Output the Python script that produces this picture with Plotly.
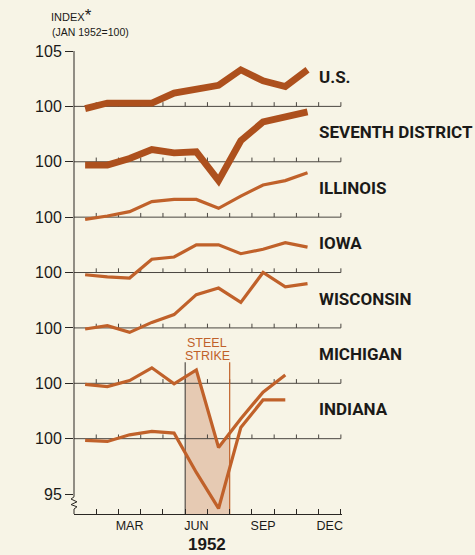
import numpy as np
import plotly.graph_objects as go

# ---------------- data ----------------
months = [1, 2, 3, 4, 5, 6, 7, 8, 9, 10, 11]          # Jan .. Nov 1952 (mid-month)
month_labels = ["MAR", "JUN", "SEP", "DEC"]
month_label_pos = [3, 6, 9, 12]
month_bounds = [1.5, 2.5, 3.5, 4.5, 5.5, 6.5, 7.5, 8.5, 9.5, 10.5, 11.5, 12.5]

us = [99.8, 100.3, 100.3, 100.3, 101.2, 101.6, 101.9, 103.3, 102.3, 101.8, 103.3]
seventh_district = [99.7, 99.7, 100.3, 101.1, 100.8, 100.9, 98.3, 101.9, 103.6, 104.0, 104.5]
illinois = [99.8, 100.1, 100.5, 101.4, 101.6, 101.6, 100.8, 101.9, 102.9, 103.3, 104.0]
iowa = [99.8, 99.6, 99.5, 101.2, 101.4, 102.5, 102.5, 101.7, 102.1, 102.7, 102.3]
wisconsin = [99.9, 100.2, 99.6, 100.5, 101.2, 103.0, 103.6, 102.3, 105.0, 103.7, 104.0]
michigan = [99.9, 99.7, 100.25, 101.4, 99.95, 101.2, 94.2, 96.8, 99.2, 100.75, None]
indiana = [99.85, 99.75, 100.35, 100.65, 100.5, 96.95, 93.7, 101.0, 103.5, 103.5, None]

series_names = ["U.S.", "SEVENTH DISTRICT", "ILLINOIS", "IOWA", "WISCONSIN", "MICHIGAN", "INDIANA"]
series_values = [us, seventh_district, illinois, iowa, wisconsin, michigan, indiana]

y_tick_labels = ["95", "100", "100", "100", "100", "100", "100", "100", "105"]
strike_start, strike_end = 5.5, 7.5   # June 1 .. Aug 1

# ---------------- style ----------------
BG = "#f7f4e6"
INK = "#2a2723"
TXT = "#1b1a18"
THICK = "#ad501d"
THIN = "#c0612a"
BASE = 100
offsets = [35, 30, 25, 20, 15, 10, 5]
widths = [6.8, 6.8, 3.2, 3.2, 3.2, 3.2, 3.2]
colors = [THICK, THICK, THIN, THIN, THIN, THIN, THIN]
YMIN, YMAX = -1.8, 40
XMIN, XMAX = 0.5, 12.55

fig = go.Figure()

# steel strike shading (below Michigan line)
mich_off = offsets[series_names.index("MICHIGAN")]
mx = [m for m, v in zip(months, michigan) if v is not None]
mv = [v for v in michigan if v is not None]
inside = [m for m in mx if strike_start < m < strike_end]
top_x = [strike_start] + inside + [strike_end]
top_y = [np.interp(x, mx, mv) - BASE + mich_off for x in top_x]
poly_x = top_x + [strike_end, strike_start, strike_start]
poly_y = top_y + [YMIN, YMIN, top_y[0]]
fig.add_trace(go.Scatter(
    x=poly_x, y=poly_y, mode="lines", fill="toself",
    fillcolor="#e6cab3", line=dict(width=0), hoverinfo="skip"))

# baselines with month ticks
bx, by = [], []
for off in offsets:
    bx += [0.5, 12.5, None]
    by += [off, off, None]
    for b in month_bounds:
        bx += [b, b, None]
        by += [off, off + 0.38, None]
fig.add_trace(go.Scatter(x=bx, y=by, mode="lines", line=dict(color="#4a4640", width=1),
                         hoverinfo="skip"))

# strike boundary lines
fig.add_trace(go.Scatter(x=[strike_start, strike_start], y=[YMIN, 11.9], mode="lines",
                         line=dict(color="#55504a", width=1.2), hoverinfo="skip"))
fig.add_trace(go.Scatter(x=[strike_end, strike_end], y=[YMIN, 11.9], mode="lines",
                         line=dict(color=THIN, width=1.2), hoverinfo="skip"))

# series
for name, vals, off, w, c in zip(series_names, series_values, offsets, widths, colors):
    xs = [m for m, v in zip(months, vals) if v is not None]
    ys = [v - BASE + off for v in vals if v is not None]
    fig.add_trace(go.Scatter(x=xs, y=ys, mode="lines", name=name,
                             line=dict(color=c, width=w), hoverinfo="skip"))
    fig.add_annotation(x=11.43, y=off + 2.65, xref="x", yref="y", text=name,
                       showarrow=False, xanchor="left", yanchor="middle",
                       font=dict(family="Roboto", size=17, color=TXT, weight="bold"))

# y axis line with break
fig.add_shape(type="line", xref="paper", yref="y", x0=0, x1=0, y0=YMAX, y1=-0.25,
              line=dict(color=INK, width=1))
fig.add_shape(type="line", xref="paper", yref="y", x0=0, x1=0, y0=-1.35, y1=YMIN,
              line=dict(color=INK, width=1))
fig.add_shape(type="path", xref="paper", yref="y",
              path="M 0,-0.25 L -0.011,-0.45 L 0.011,-0.7 L -0.011,-0.95 L 0.011,-1.15 L 0,-1.35",
              line=dict(color=INK, width=1))

# texts
fig.add_annotation(x=6.5, y=13.6, xref="x", yref="y", text="STEEL", showarrow=False,
                   font=dict(family="Liberation Sans", size=12.5, color=THIN))
fig.add_annotation(x=6.5, y=12.5, xref="x", yref="y", text="STRIKE", showarrow=False,
                   font=dict(family="Liberation Sans", size=12.5, color=THIN))
fig.add_annotation(x=6.5, y=0, xref="x", yref="paper", yshift=-41, text="1952",
                   showarrow=False, yanchor="bottom", borderpad=0,
                   font=dict(family="Liberation Sans", size=17, color=TXT, weight="bold"))
fig.add_annotation(x=-0.093, y=1.076, xref="paper", yref="paper",
                   text="INDEX<span style='font-size:17px'>*</span>", showarrow=False,
                   yanchor="middle", font=dict(family="Liberation Sans", size=11, color=TXT))
fig.add_annotation(x=-0.088, y=1.04, xref="paper", yref="paper",
                   text="(JAN 1952=100)", showarrow=False, yanchor="middle",
                   font=dict(family="Liberation Sans", size=10.5, color=TXT))

fig.update_layout(
    width=475, height=555,
    margin=dict(l=74, r=133, t=51, b=41),
    paper_bgcolor=BG, plot_bgcolor=BG, showlegend=False,
    xaxis=dict(range=[XMIN, XMAX], tickvals=month_label_pos, ticktext=month_labels,
               ticks="", showline=True, linecolor=INK, linewidth=1, showgrid=False,
               zeroline=False, ticklabelstandoff=0,
               tickfont=dict(family="Liberation Sans", size=12.5, color=TXT),
               minor=dict(tickvals=month_bounds, ticks="inside", ticklen=5,
                          tickcolor=INK, tickwidth=1)),
    yaxis=dict(range=[YMIN, YMAX], tickvals=[0, 5, 10, 15, 20, 25, 30, 35, 40],
               ticktext=y_tick_labels, ticks="outside", ticklen=8, tickcolor=INK,
               tickwidth=1, showline=False, showgrid=False, zeroline=False,
               tickfont=dict(family="Liberation Sans", size=16, color=TXT)),
)

fig.write_html("out.html", config={"displayModeBar": False},
               post_script="document.body.style.margin='0';document.body.style.background='%s';" % BG)
